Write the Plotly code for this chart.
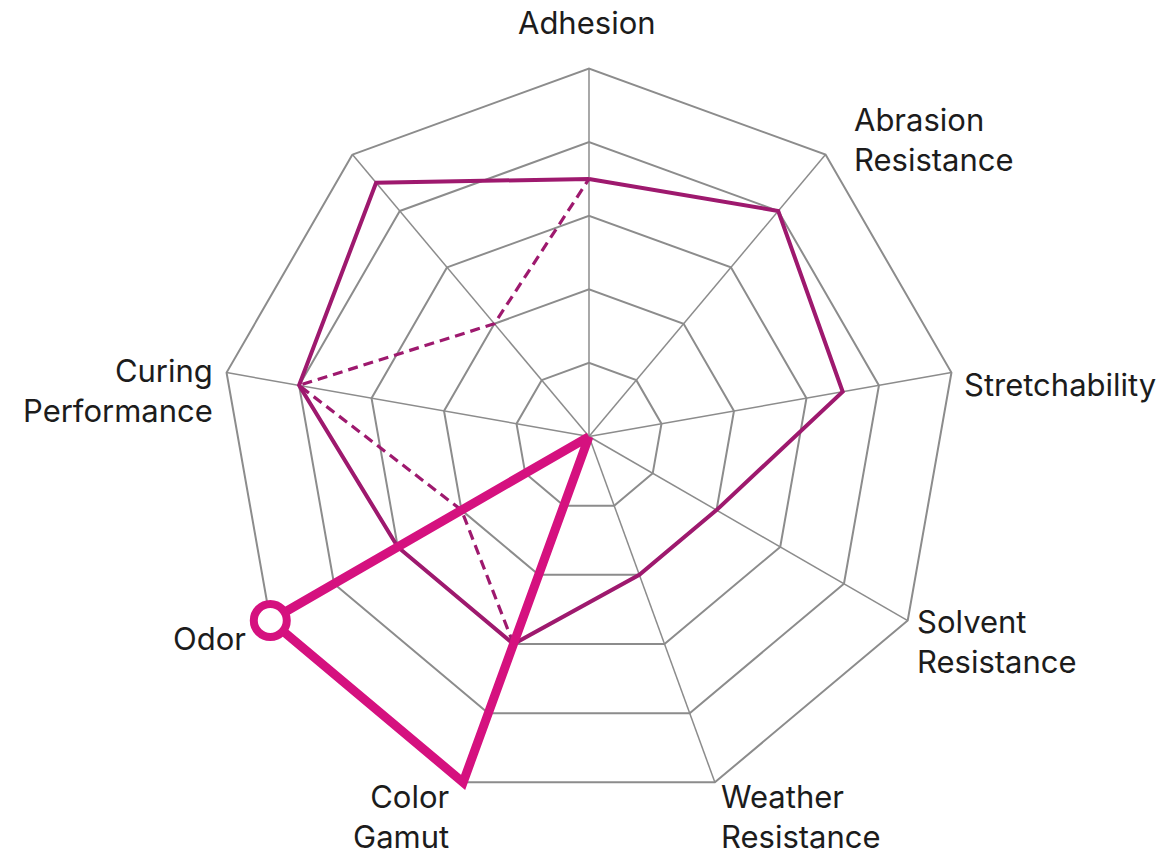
import plotly.graph_objects as go

# Axes, clockwise from the top (the upper-left axis carries no label)
categories = ["Adhesion", "Abrasion Resistance", "Stretchability", "Solvent Resistance",
              "Weather Resistance", "Color Gamut", "Odor", "Curing Performance", "Unlabeled"]
axis_labels = ["Adhesion", "Abrasion<br>Resistance", "Stretchability", "Solvent<br>Resistance",
               "Weather<br>Resistance", "Color<br>Gamut", "Odor", "Curing<br>Performance", ""]

# Main profile (thin solid line), 0-10 scale
profile_values = [7, 8, 7, 4, 4, 6, 6, 8, 9]

# Alternative partial profile (dashed)
alt_categories = ["Color Gamut", "Odor", "Curing Performance", "Unlabeled", "Adhesion"]
alt_values = [6, 4, 8, 4, 7]

# Highlight (thick line): from the centre out to Odor and Color Gamut
hl_categories = ["Odor", "Odor", "Color Gamut", "Color Gamut"]
hl_values = [0, 10, 10, 0]
hl_marker_sizes = [0, 33, 0, 0]

ring_values = [2, 4, 6, 8, 10]
scale_max = 10

THIN = "#9E196E"
THICK = "#D5117F"
GRID = "#8C8C8C"
TEXT = "#1c1c1c"
FONT = "Inter, 'Noto Sans', sans-serif"

W, H = 1174, 855
TEXT_PAD = 3

# label placement: anchor x (pixels), block centre y (pixels), side
label_layout = [
    (587, 22, "center"),
    (855, 139, "left"),
    (965, 385, "left"),
    (918, 641, "left"),
    (722, 816, "left"),
    (448, 816, "right"),
    (245, 638, "right"),
    (212, 391, "right"),
    None,
]

fig = go.Figure()

# spokes (drawn as traces so the grid ends exactly at the outer ring)
for cat in categories:
    fig.add_trace(go.Scatterpolar(
        r=[0, scale_max], theta=[cat, cat], mode="lines",
        line=dict(color=GRID, width=1.5), hoverinfo="skip", showlegend=False,
    ))

fig.add_trace(go.Scatterpolar(
    r=profile_values + profile_values[:1],
    theta=categories + categories[:1],
    mode="lines",
    line=dict(color=THIN, width=4),
    hoverinfo="skip",
    showlegend=False,
))

fig.add_trace(go.Scatterpolar(
    r=alt_values,
    theta=alt_categories,
    mode="lines",
    line=dict(color=THIN, width=3.2, dash="10px,6px"),
    hoverinfo="skip",
    showlegend=False,
))

fig.add_trace(go.Scatterpolar(
    r=hl_values,
    theta=hl_categories,
    mode="lines+markers",
    cliponaxis=False,
    line=dict(color=THICK, width=9),
    marker=dict(size=hl_marker_sizes, color="white", symbol="circle", opacity=1,
                line=dict(color=THICK, width=8)),
    hoverinfo="skip",
    showlegend=False,
))

annotations = []
for text, pos in zip(axis_labels, label_layout):
    if pos is None or not text:
        continue
    px, py, side = pos
    if side == "left":
        ax = px - TEXT_PAD
    elif side == "right":
        ax = px + TEXT_PAD
    else:
        ax = px
    annotations.append(dict(
        text=text, x=ax / W, y=1 - py / H, xref="paper", yref="paper",
        xanchor=side, yanchor="middle", align=side, showarrow=False,
        font=dict(family=FONT, size=31, color=TEXT),
    ))

fig.update_layout(
    width=W,
    height=H,
    margin=dict(l=0, r=0, t=0, b=0),
    paper_bgcolor="white",
    plot_bgcolor="white",
    hovermode=False,
    font=dict(family=FONT, size=31, color=TEXT),
    annotations=annotations,
    polar=dict(
        domain=dict(x=[0.0085, 0.9949], y=[0.0375, 0.9414]),
        bgcolor="rgba(0,0,0,0)",
        gridshape="linear",
        radialaxis=dict(
            range=[0, scale_max * 1.05],
            tickvals=ring_values,
            showticklabels=False,
            ticks="",
            showline=False,
            gridcolor=GRID,
            gridwidth=1.5,
        ),
        angularaxis=dict(
            type="category",
            categoryarray=categories,
            rotation=90,
            direction="clockwise",
            ticks="",
            showline=False,
            showgrid=False,
            showticklabels=False,
        ),
    ),
)

fig.write_html("out.html", config={"displayModeBar": False},
               post_script="document.body.style.margin='0px';")
